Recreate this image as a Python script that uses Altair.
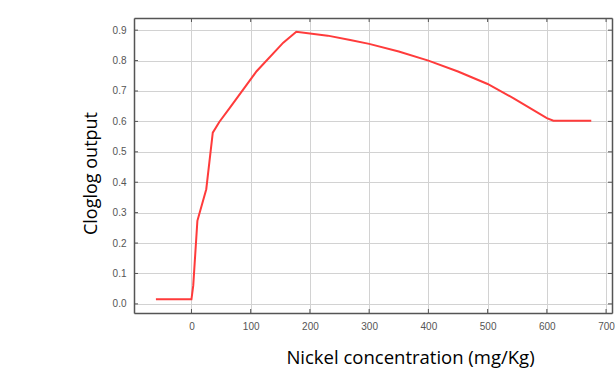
import altair as alt
import pandas as pd

# Data
conc = [-60, 0, 3, 10, 25, 36, 47, 65, 110, 155, 177, 230, 268, 300, 350, 400, 450, 500, 544, 600, 611, 675]
cloglog = [0.015, 0.015, 0.06, 0.273, 0.377, 0.563, 0.598, 0.645, 0.765, 0.859, 0.895,
           0.882, 0.868, 0.855, 0.830, 0.800, 0.764, 0.723, 0.676, 0.611, 0.602, 0.602]
x_ticks = [0, 100, 200, 300, 400, 500, 600, 700]
y_ticks = [0.0, 0.1, 0.2, 0.3, 0.4, 0.5, 0.6, 0.7, 0.8, 0.9]

W, H = 478, 295

df = pd.DataFrame({"conc": conc, "val": cloglog})
xt = pd.DataFrame({"t": x_ticks})
yt = pd.DataFrame({"t": y_ticks})

xscale = alt.Scale(domain=[-97, 710], nice=False, zero=False)
yscale = alt.Scale(domain=[-0.03, 0.94], nice=False, zero=False)

label_font = "Liberation Sans"
frame_color = "#555"

line = alt.Chart(df).mark_line(color="#ff3b3b", strokeWidth=2).encode(
    x=alt.X("conc:Q", scale=xscale,
            axis=alt.Axis(values=x_ticks, title="Nickel concentration (mg/Kg)",
                          format="d", ticks=False, labelPadding=8,
                          domain=True, domainColor=frame_color, domainWidth=1.5,
                          grid=True, gridColor="#d2d2d2",
                          labelFont=label_font, labelFontSize=10, labelColor="#555",
                          titleFont="Open Sans", titleFontSize=18.5, titleFontWeight="normal",
                          titleColor="#000", titleX=276, titleY=35,
                          titleBaseline="top", titleAlign="center")),
    y=alt.Y("val:Q", scale=yscale,
            axis=alt.Axis(values=y_ticks, title="Cloglog output", format=".1f",
                          ticks=False, labelPadding=8,
                          domain=True, domainColor=frame_color, domainWidth=1.5,
                          grid=True, gridColor="#d2d2d2",
                          labelFont=label_font, labelFontSize=10, labelColor="#555",
                          titleFont="Open Sans", titleFontSize=18, titleFontWeight="normal",
                          titleColor="#000", titleX=-43, titleY=155, titleAngle=-90,
                          titleBaseline="middle", titleAlign="center")),
)

frame_axis_top = alt.Axis(orient="top", labels=False, ticks=False, grid=False, title=None,
                          domain=True, domainColor=frame_color, domainWidth=1.5)
frame_axis_right = alt.Axis(orient="right", labels=False, ticks=False, grid=False, title=None,
                            domain=True, domainColor=frame_color, domainWidth=1.5)

tick_color = "#555"
bottom_ticks = alt.Chart(xt).mark_rule(color=tick_color, strokeWidth=1).encode(
    x=alt.X("t:Q", scale=xscale, axis=None), y=alt.value(H - 4), y2=alt.value(H))
top_ticks = alt.Chart(xt).mark_rule(color=tick_color, strokeWidth=1).encode(
    x=alt.X("t:Q", scale=xscale, axis=frame_axis_top), y=alt.value(0), y2=alt.value(4))
left_ticks = alt.Chart(yt).mark_rule(color=tick_color, strokeWidth=1).encode(
    y=alt.Y("t:Q", scale=yscale, axis=None), x=alt.value(0), x2=alt.value(4))
right_ticks = alt.Chart(yt).mark_rule(color=tick_color, strokeWidth=1).encode(
    y=alt.Y("t:Q", scale=yscale, axis=frame_axis_right), x=alt.value(W - 4), x2=alt.value(W))

chart = alt.layer(line, bottom_ticks, top_ticks, left_ticks, right_ticks).resolve_axis(
    x="independent", y="independent"
).properties(
    width=W, height=H,
    autosize=alt.AutoSizeParams(type="none"),
    padding={"left": 134, "top": 18, "right": 3, "bottom": 63},
).configure_view(stroke=None).configure(background="white")

chart.save("out.html", embed_options={"renderer": "svg", "actions": False})
